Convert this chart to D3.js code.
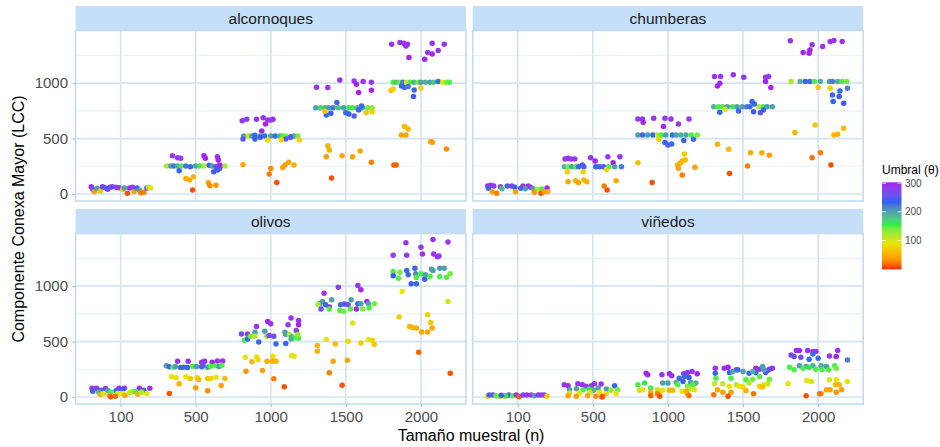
<!DOCTYPE html>
<html>
<head>
<meta charset="utf-8">
<script src="https://cdn.jsdelivr.net/npm/d3@7"></script>
<style>
  html, body { margin: 0; padding: 0; background: #ffffff; }
  svg { display: block; }
</style>
</head>
<body>
<svg id="chart" width="940" height="447"></svg>
<script>
// ---- data -------------------------------------------------------------
const panelNames = ["alcornoques", "chumberas", "olivos", "viñedos"];
const sampleSizes = [100, 500, 1000, 1500, 2000];
const yTicks = [0, 500, 1000];
const yMinorTicks = [250, 750, 1250];
const legendTicks = [100, 200, 300];
// colour ramp for the threshold (θ)
const colourStops = [0, 35, 90, 155, 200, 235, 300];
const colourValues = ["#ff1a00", "#ff9800", "#e8e400", "#2bee4a", "#4fa0ad", "#2a60f2", "#a524f0"];

// rows: [sample size n, horizontal jitter (category units), LCC, θ]
const alcornoques = [
  [100,-0.39,66,290],[100,-0.37,42,260],[100,-0.35,21,40],[100,-0.31,51,200],[100,-0.27,27,70],[100,-0.24,66,290],[100,-0.20,54,230],[100,-0.17,42,280],[100,-0.14,60,230],[100,-0.11,66,290],[100,-0.06,60,260],[100,-0.02,57,290],[100,0.03,42,70],[100,0.05,54,200],[100,0.09,6,10],[100,0.12,54,290],[100,0.16,60,290],[100,0.18,21,40],[100,0.22,54,230],[100,0.25,36,200],[100,0.27,12,25],[100,0.31,15,25],[100,0.35,54,290],[100,0.37,60,130],[100,0.40,54,90],
  [500,-0.31,346,290],[500,-0.24,328,280],[500,-0.20,322,290],[500,0.11,346,300],[500,0.13,322,300],[500,0.29,337,290],[500,0.30,307,300],
  [500,-0.39,253,120],[500,-0.33,253,200],[500,-0.29,253,225],[500,-0.24,253,195],[500,-0.19,253,150],[500,-0.13,253,225],[500,-0.07,247,230],[500,0.00,253,200],[500,0.05,253,160],[500,0.11,253,120],[500,0.18,259,230],[500,0.22,253,200],[500,0.27,247,250],[500,0.33,253,190],[500,0.39,253,120],
  [500,-0.22,210,230],[500,0.24,201,240],[500,0.29,216,240],[500,0.32,231,250],[500,0.32,262,300],
  [500,-0.13,141,50],[500,-0.08,126,50],[500,-0.03,156,55],[500,-0.04,36,10],[500,0.17,102,40],[500,0.19,75,30],[500,0.27,78,35],
  [1000,-0.38,662,290],[1000,-0.32,674,285],[1000,-0.19,674,290],[1000,-0.10,689,290],[1000,-0.07,632,300],[1000,-0.12,569,300],[1000,-0.04,668,290],[1000,0.00,668,290],[1000,0.03,674,290],
  [1000,-0.36,523,200],[1000,-0.30,523,100],[1000,-0.25,523,200],[1000,-0.21,530,230],[1000,-0.14,523,200],[1000,-0.08,523,230],[1000,0.00,523,200],[1000,0.06,523,230],[1000,0.12,523,190],[1000,0.16,523,150],[1000,0.20,523,140],[1000,0.27,517,250],[1000,0.31,523,200],[1000,0.36,523,140],
  [1000,-0.37,496,250],[1000,-0.21,496,240],[1000,-0.14,511,240],[1000,0.20,496,250],[1000,0.26,511,250],
  [1000,-0.04,488,80],[1000,0.14,488,80],[1000,0.38,488,75],
  [1000,-0.37,265,45],[1000,-0.02,180,25],[1000,0.00,231,30],[1000,0.08,105,10],[1000,0.16,240,40],[1000,0.19,262,40],[1000,0.24,286,45],[1000,0.31,262,50],
  [1500,-0.39,963,290],[1500,-0.24,960,290],[1500,-0.08,1029,290],[1500,0.11,1020,290],[1500,0.14,990,300],[1500,0.23,1014,290],[1500,0.34,1008,290],[1500,0.17,915,300],[1500,0.34,936,300],
  [1500,-0.40,779,200],[1500,-0.34,779,170],[1500,-0.28,779,190],[1500,-0.23,779,200],[1500,-0.17,779,220],[1500,-0.10,779,180],[1500,-0.03,779,200],[1500,0.04,779,160],[1500,0.09,779,150],[1500,0.15,779,190],[1500,0.22,779,200],[1500,0.29,779,140],[1500,0.35,779,130],
  [1500,-0.12,825,230],[1500,-0.26,713,230],[1500,-0.20,728,240],[1500,0.00,734,230],[1500,0.04,722,240],[1500,0.11,704,250],[1500,0.17,758,230],[1500,0.21,795,230],
  [1500,-0.28,746,65],[1500,0.27,734,70],[1500,0.35,743,75],
  [1500,-0.24,436,50],[1500,-0.22,397,50],[1500,-0.26,337,40],[1500,-0.05,346,45],[1500,0.09,337,40],[1500,0.19,388,45],[1500,0.34,286,25],[1500,-0.19,144,10],
  [2000,-0.39,1352,290],[2000,-0.28,1367,290],[2000,-0.23,1361,290],[2000,-0.20,1336,300],[2000,-0.18,1352,290],[2000,-0.16,1231,300],[2000,0.05,1216,300],[2000,0.09,1276,290],[2000,0.15,1264,300],[2000,0.23,1294,290],[2000,0.15,1361,290],[2000,0.31,1352,290],
  [2000,-0.37,1008,150],[2000,-0.33,1008,180],[2000,-0.28,1008,140],[2000,-0.24,1008,220],[2000,-0.19,1008,100],[2000,-0.14,1008,150],[2000,-0.09,1008,190],[2000,-0.04,1008,140],[2000,0.00,1008,200],[2000,0.06,1008,190],[2000,0.12,1008,200],[2000,0.17,1008,180],[2000,0.23,1014,230],[2000,0.29,1008,100],[2000,0.34,1008,140],[2000,0.38,1008,150],
  [2000,-0.26,975,230],[2000,-0.22,960,230],[2000,-0.17,969,220],[2000,-0.09,939,230],[2000,-0.10,879,240],
  [2000,-0.40,933,70],[2000,-0.37,948,75],[2000,0.00,954,75],
  [2000,-0.22,608,55],[2000,-0.17,587,55],[2000,-0.26,533,45],[2000,-0.20,533,45],[2000,0.13,472,40],[2000,0.15,466,40],[2000,0.34,406,30],
  [2000,-0.36,262,15],[2000,-0.33,262,15]
];

const chumberas = [
  [100,-0.40,72,290],[100,-0.36,78,290],[100,-0.32,72,290],[100,-0.39,51,230],[100,-0.23,66,280],[100,-0.14,72,230],[100,-0.08,72,290],[100,-0.04,60,240],[100,0.04,51,230],[100,0.07,72,290],[100,0.14,72,290],[100,0.17,60,280],[100,0.21,48,200],[100,0.26,42,120],[100,0.32,45,150],[100,0.39,54,300],[100,-0.34,21,40],[100,-0.28,6,25],[100,-0.03,21,40],[100,0.22,15,35],[100,0.31,6,10],[100,0.35,21,40],[100,0.40,21,50],[100,-0.21,48,180],[100,0.10,48,200],
  [500,-0.37,316,290],[500,-0.33,322,290],[500,-0.29,316,290],[500,-0.24,316,290],[500,-0.03,328,290],[500,0.03,298,300],[500,0.20,337,290],[500,0.27,283,300],[500,0.36,337,290],
  [500,-0.38,246,190],[500,-0.33,246,140],[500,-0.28,246,200],[500,-0.23,246,150],[500,-0.19,246,230],[500,-0.12,246,230],[500,0.04,246,230],[500,0.09,246,230],[500,0.14,246,250],[500,0.21,246,150],[500,0.29,246,200],[500,0.38,246,220],[500,-0.14,262,250],
  [500,-0.34,201,75],[500,-0.13,201,75],[500,0.18,222,80],
  [500,-0.33,111,45],[500,-0.23,120,50],[500,-0.19,102,45],[500,-0.12,126,60],[500,-0.08,111,50],[500,0.15,72,25],[500,0.19,36,10],[500,0.31,120,45],
  [1000,-0.40,677,290],[1000,-0.34,677,290],[1000,-0.33,647,300],[1000,-0.19,683,290],[1000,-0.06,608,300],[1000,-0.04,683,290],[1000,0.04,677,290],[1000,0.14,632,290],[1000,0.28,677,290],
  [1000,-0.40,533,200],[1000,-0.34,533,230],[1000,-0.27,533,200],[1000,-0.20,533,230],[1000,-0.14,533,120],[1000,-0.09,533,150],[1000,-0.03,533,200],[1000,0.06,533,230],[1000,0.11,533,200],[1000,0.17,533,190],[1000,0.24,533,200],[1000,0.31,533,150],[1000,0.39,533,140],
  [1000,-0.12,494,75],[1000,-0.04,464,240],[1000,0.00,443,250],[1000,0.05,452,230],[1000,0.21,482,240],[1000,0.34,494,230],
  [1000,0.22,361,75],[1000,0.13,262,50],[1000,0.16,277,50],[1000,0.19,298,55],[1000,0.23,307,60],[1000,0.14,232,40],[1000,0.19,171,25],[1000,0.36,241,40],[1000,-0.40,283,60],[1000,-0.21,105,10],
  [1500,-0.38,1059,290],[1500,-0.30,1059,290],[1500,-0.34,975,300],[1500,-0.31,999,300],[1500,-0.13,1075,290],[1500,0.01,1053,290],[1500,0.30,1053,290],[1500,0.34,1059,290],[1500,0.30,1014,300],[1500,0.37,960,300],
  [1500,-0.39,788,190],[1500,-0.33,788,150],[1500,-0.27,788,150],[1500,-0.21,788,200],[1500,-0.14,788,160],[1500,-0.08,788,200],[1500,-0.01,788,200],[1500,0.05,788,220],[1500,0.09,788,230],[1500,0.21,788,120],[1500,0.27,788,150],[1500,0.32,788,200],[1500,0.39,788,200],
  [1500,0.12,834,230],[1500,0.15,812,230],[1500,-0.24,764,100],[1500,-0.31,737,230],[1500,-0.06,749,230],[1500,0.14,743,240],[1500,0.23,734,250],[1500,0.27,758,240],
  [1500,-0.34,448,50],[1500,-0.19,403,55],[1500,0.10,373,50],[1500,0.25,373,50],[1500,0.35,349,40],[1500,0.06,253,25],[1500,-0.18,186,10],
  [2000,-0.37,1382,290],[2000,-0.20,1276,300],[2000,-0.12,1270,300],[2000,-0.11,1300,300],[2000,-0.08,1346,290],[2000,0.06,1330,290],[2000,0.16,1376,290],[2000,0.21,1385,290],[2000,0.32,1376,290],
  [2000,-0.36,1014,120],[2000,-0.24,1014,190],[2000,-0.17,1014,230],[2000,-0.11,1014,230],[2000,-0.05,1014,150],[2000,0.03,1014,190],[2000,0.15,1014,200],[2000,0.19,1014,220],[2000,0.26,1014,190],[2000,0.32,1014,150],[2000,0.38,1014,140],
  [2000,0.00,960,70],[2000,0.16,954,75],[2000,0.29,930,230],[2000,0.39,954,220],[2000,0.19,894,230],[2000,0.28,879,240],[2000,0.20,834,240],[2000,0.34,819,240],
  [2000,-0.31,554,55],[2000,-0.04,623,65],[2000,0.21,533,55],[2000,0.26,539,55],[2000,0.34,593,60],[2000,-0.08,328,20],[2000,0.03,373,25],[2000,0.17,262,10]
];

const olivos = [
  [100,-0.38,80,290],[100,-0.32,80,290],[100,-0.20,77,290],[100,-0.02,80,290],[100,0.05,80,290],[100,0.25,80,290],[100,0.39,80,290],
  [100,-0.37,53,230],[100,-0.26,62,230],[100,-0.06,56,230],[100,0.03,68,240],[100,0.31,62,230],[100,-0.29,44,190],[100,-0.17,62,200],[100,-0.13,44,150],[100,0.16,50,130],[100,0.20,50,150],
  [100,-0.04,32,90],[100,0.03,32,90],[100,0.35,32,90],[100,-0.27,23,45],[100,-0.15,14,40],[100,0.06,14,45],[100,0.23,26,50],[100,-0.13,3,10],[100,-0.07,8,20],[100,-0.23,32,100],[100,0.12,38,110],[100,0.28,44,120],
  [500,-0.24,323,290],[500,-0.10,323,290],[500,0.08,314,290],[500,0.12,323,290],[500,0.22,314,300],[500,0.29,326,290],[500,0.36,326,290],
  [500,-0.39,281,200],[500,-0.35,272,230],[500,-0.30,266,140],[500,-0.27,275,200],[500,-0.20,266,230],[500,-0.16,269,230],[500,-0.11,266,230],[500,-0.04,278,150],[500,0.01,275,200],[500,0.08,272,230],[500,0.10,284,260],[500,0.16,269,200],[500,0.20,278,150],[500,0.27,284,150],[500,0.31,275,200],[500,0.35,287,150],
  [500,-0.32,182,90],[500,-0.26,173,90],[500,-0.13,182,90],[500,-0.07,167,70],[500,0.02,173,80],[500,0.04,158,60],[500,0.16,167,70],[500,0.20,167,75],[500,0.27,179,90],[500,0.39,167,60],
  [500,-0.22,119,50],[500,0.00,83,40],[500,0.16,56,30],[500,0.34,104,40],[500,-0.35,32,10],
  [1000,-0.39,569,260],[1000,-0.31,569,280],[1000,-0.19,637,290],[1000,-0.21,584,200],[1000,-0.08,593,200],[1000,-0.35,512,150],[1000,-0.31,524,230],[1000,-0.16,497,230],[1000,-0.27,548,140],[1000,-0.21,548,120],[1000,-0.05,548,140],
  [1000,-0.34,359,90],[1000,-0.19,362,90],[1000,-0.17,338,80],[1000,-0.25,317,55],[1000,-0.33,233,35],[1000,-0.11,239,40],
  [1000,-0.04,682,300],[1000,0.00,661,290],[1000,0.27,712,290],[1000,0.37,691,290],[1000,0.37,652,300],[1000,0.23,652,280],[1000,0.34,601,280],[1000,0.19,584,200],[1000,-0.02,554,280],[1000,0.04,548,260],[1000,0.20,563,200],[1000,0.25,563,120],[1000,0.28,542,200],[1000,0.31,533,150],[1000,0.37,530,150],[1000,0.36,563,130],[1000,0.07,479,230],[1000,0.20,482,230],[1000,0.27,524,190],
  [1000,0.03,368,90],[1000,0.28,374,85],[1000,0.31,368,90],[1000,-0.05,323,50],[1000,0.02,323,50],[1000,0.07,323,55],[1000,0.04,164,25],[1000,0.18,92,10],
  [1500,-0.29,937,290],[1500,-0.10,991,280],[1500,0.16,1006,290],[1500,0.20,967,300],
  [1500,-0.33,793,260],[1500,-0.22,811,300],[1500,0.03,832,270],[1500,0.14,793,300],[1500,0.28,862,300],
  [1500,-0.35,841,210],[1500,-0.31,862,200],[1500,-0.27,832,230],[1500,-0.19,877,200],[1500,-0.07,832,230],[1500,-0.02,838,250],[1500,0.07,877,200],[1500,0.16,841,230],[1500,0.20,841,200],[1500,0.22,793,140],[1500,0.30,841,200],[1500,0.38,841,140],
  [1500,-0.37,835,120],[1500,-0.22,793,150],[1500,-0.08,781,150],[1500,-0.03,772,140],[1500,0.31,802,150],[1500,0.06,793,150],
  [1500,0.09,667,100],[1500,-0.26,518,90],[1500,0.03,503,85],[1500,0.20,488,75],[1500,0.30,518,90],[1500,0.35,512,80],[1500,0.38,473,70],
  [1500,-0.38,464,55],[1500,-0.38,413,50],[1500,-0.14,479,60],[1500,-0.17,323,45],[1500,0.02,332,45],[1500,-0.22,218,25],[1500,-0.05,107,10],
  [2000,-0.20,1392,290],[2000,-0.37,1278,280],[2000,-0.19,1278,290],[2000,0.00,1350,290],[2000,0.02,1290,290],[2000,0.16,1422,290],[2000,0.17,1290,290],[2000,0.22,1266,300],[2000,0.36,1398,290],[2000,0.24,1272,290],
  [2000,-0.37,1132,150],[2000,-0.37,1093,240],[2000,-0.28,1126,140],[2000,-0.30,1072,150],[2000,-0.19,1141,230],[2000,-0.17,1102,230],[2000,-0.08,1161,230],[2000,-0.07,1111,210],[2000,-0.13,1021,240],[2000,-0.06,1021,230],[2000,-0.06,1078,150],[2000,0.00,1111,150],[2000,0.05,1063,240],[2000,0.06,1102,200],[2000,0.12,1087,150],[2000,0.14,1153,200],[2000,0.16,1141,200],[2000,0.25,1161,200],[2000,0.25,1087,150],[2000,0.31,1161,200],[2000,0.34,1081,150],[2000,0.39,1111,140],
  [2000,-0.25,952,90],[2000,-0.29,721,75],[2000,0.09,742,75],[2000,0.13,673,70],[2000,0.36,862,100],
  [2000,-0.15,637,55],[2000,-0.11,628,55],[2000,-0.06,622,50],[2000,0.01,587,45],[2000,0.09,587,45],[2000,0.15,622,45],
  [2000,-0.03,404,15],[2000,0.39,215,10]
];

const vinedos = [
  [100,-0.40,6,80],[100,-0.38,18,230],[100,-0.33,18,280],[100,-0.29,12,150],[100,-0.24,6,130],[100,-0.18,6,90],[100,-0.12,18,230],[100,-0.07,12,150],[100,-0.02,18,290],[100,0.02,2,15],[100,0.07,18,280],[100,0.12,18,290],[100,0.18,18,290],[100,0.22,12,200],[100,0.27,18,290],[100,0.31,18,280],[100,0.35,18,290],[100,0.39,6,70],[100,-0.16,12,180],[100,-0.22,15,240],
  [500,-0.38,111,290],[500,-0.33,102,290],[500,-0.20,120,290],[500,-0.14,111,290],[500,-0.09,96,290],[500,-0.02,102,280],[500,0.02,120,290],[500,0.11,117,290],[500,0.29,102,230],
  [500,-0.31,66,200],[500,-0.22,75,200],[500,-0.13,66,150],[500,-0.05,72,160],[500,0.01,60,190],[500,0.07,81,200],[500,0.18,72,200],[500,0.24,60,130],[500,0.33,66,140],
  [500,-0.31,36,100],[500,-0.18,36,90],[500,-0.04,42,100],[500,0.09,42,90],[500,0.18,30,80],[500,0.31,30,90],
  [500,-0.33,12,40],[500,-0.22,6,40],[500,-0.07,12,45],[500,0.04,6,30],[500,0.13,6,20],[500,0.12,0,10],
  [1000,-0.29,215,300],[1000,-0.27,200,300],[1000,-0.08,200,290],[1000,0.02,209,300],[1000,0.05,191,290],[1000,0.21,209,280],[1000,0.26,221,290],[1000,0.32,230,290],[1000,0.39,209,300],
  [1000,0.15,170,230],[1000,0.22,185,230],[1000,0.28,176,240],[1000,0.20,140,240],
  [1000,-0.07,126,200],[1000,0.00,126,200],[1000,0.11,131,190],[1000,0.30,131,200],[1000,0.37,126,190],
  [1000,-0.40,111,150],[1000,-0.31,126,160],[1000,-0.23,81,150],[1000,0.13,111,150],[1000,0.26,96,140],[1000,0.33,111,150],
  [1000,-0.38,60,110],[1000,-0.14,66,110],[1000,0.28,72,120],
  [1000,-0.34,66,90],[1000,-0.11,51,85],[1000,-0.07,60,90],[1000,0.19,51,90],[1000,0.35,66,90],
  [1000,-0.23,42,50],[1000,0.02,60,55],[1000,0.06,60,55],[1000,0.24,51,55],[1000,0.26,30,45],
  [1000,-0.23,12,15],[1000,-0.14,30,25],[1000,-0.11,6,10],[1000,0.28,12,20],
  [1500,-0.37,260,290],[1500,-0.25,260,290],[1500,-0.20,269,300],[1500,-0.09,245,290],[1500,0.17,260,300],[1500,0.22,251,290],[1500,0.35,251,280],[1500,0.39,260,290],
  [1500,-0.37,215,230],[1500,-0.18,221,240],[1500,-0.07,245,230],[1500,0.08,215,230],[1500,0.17,221,230],[1500,0.30,221,240],[1500,0.33,239,250],
  [1500,-0.14,230,200],[1500,0.00,230,200],[1500,0.13,230,190],[1500,0.26,275,200],[1500,0.28,245,200],
  [1500,-0.36,170,150],[1500,-0.16,170,150],[1500,0.04,155,150],[1500,0.13,161,140],[1500,0.22,185,150],[1500,0.35,161,140],
  [1500,-0.38,120,110],[1500,-0.27,120,110],[1500,-0.09,111,110],[1500,0.08,126,120],[1500,0.33,120,110],
  [1500,-0.18,96,90],[1500,-0.05,96,90],[1500,0.00,90,85],[1500,0.22,96,80],[1500,0.28,111,90],
  [1500,-0.34,66,45],[1500,-0.27,42,40],[1500,-0.16,42,40],[1500,0.04,57,50],[1500,0.26,90,60],
  [1500,-0.39,21,20],[1500,-0.20,6,10],[1500,0.14,30,20],
  [2000,-0.29,419,290],[2000,-0.25,419,300],[2000,-0.14,419,290],[2000,-0.07,410,290],[2000,-0.03,410,290],[2000,0.26,419,290],[2000,0.15,371,290],[2000,0.24,365,300],[2000,-0.36,380,280],[2000,-0.32,365,260],[2000,-0.23,359,270],
  [2000,-0.07,389,230],[2000,-0.12,341,230],[2000,0.00,350,230],[2000,0.39,335,220],
  [2000,-0.25,281,200],[2000,-0.16,275,200],[2000,-0.07,281,190],[2000,0.04,281,190],[2000,0.11,275,200],
  [2000,-0.38,269,150],[2000,-0.32,245,150],[2000,-0.20,260,150],[2000,-0.12,269,160],[2000,-0.03,251,150],[2000,0.05,245,150],[2000,0.14,245,150],[2000,0.22,281,150],[2000,0.24,260,140],
  [2000,-0.40,120,90],[2000,-0.15,149,90],[2000,-0.09,141,100],[2000,0.15,155,100],[2000,0.24,155,90],[2000,0.39,141,90],
  [2000,0.04,30,40],[2000,0.11,66,45],[2000,0.16,66,45],[2000,0.23,111,60],[2000,0.28,111,55],[2000,0.31,66,40],[2000,0.24,42,35],
  [2000,-0.16,12,10],[2000,0.02,30,20]
];

const panelData = [alcornoques, chumberas, olivos, vinedos];

// ---- layout -----------------------------------------------------------
const font = "'Liberation Sans', Arial, Helvetica, sans-serif";
const panelLeft = [75.5, 472.7];
const panelTop = [30.5, 233.5];
const panelW = 390.5;
const panelH = 170.5;
const stripH = 24.5;

const stripFill = "#c6dff9";
const gridMajor = "#d3e4f5";
const gridMinor = "#e9f2fb";
const borderColour = "#c4dbf0";

const svg = d3.select("#chart");

const x = d3.scalePoint().domain(sampleSizes).range([0, panelW]).padding(0.6);
const step = x.step();
const y = d3.scaleLinear().domain([-63, 1475]).range([panelH, 0]);
const colour = d3.scaleLinear()
  .domain(colourStops)
  .range(colourValues)
  .interpolate(d3.interpolateLab)
  .clamp(true);

panelNames.forEach((name, i) => {
  const col = i % 2, row = Math.floor(i / 2);
  const g = svg.append("g").attr("transform", `translate(${panelLeft[col]},${panelTop[row]})`);

  // strip
  g.append("rect")
    .attr("x", 0).attr("y", -stripH)
    .attr("width", panelW).attr("height", stripH)
    .attr("fill", stripFill);
  g.append("text")
    .attr("x", panelW / 2).attr("y", -stripH / 2)
    .attr("dy", "0.36em")
    .attr("text-anchor", "middle")
    .attr("font-family", font).attr("font-size", 15.5)
    .attr("fill", "#1a1a1a")
    .text(name);

  // panel background
  g.append("rect").attr("width", panelW).attr("height", panelH).attr("fill", "#ffffff");

  // minor grid
  g.selectAll(".minor").data(yMinorTicks).join("line")
    .attr("x1", 0).attr("x2", panelW)
    .attr("y1", d => y(d)).attr("y2", d => y(d))
    .attr("stroke", gridMinor).attr("stroke-width", 1.1);

  // major grid
  g.selectAll(".hmajor").data(yTicks).join("line")
    .attr("x1", 0).attr("x2", panelW)
    .attr("y1", d => y(d)).attr("y2", d => y(d))
    .attr("stroke", gridMajor).attr("stroke-width", 1.6);
  g.selectAll(".vmajor").data(sampleSizes).join("line")
    .attr("y1", 0).attr("y2", panelH)
    .attr("x1", d => x(d)).attr("x2", d => x(d))
    .attr("stroke", gridMajor).attr("stroke-width", 1.6);

  // points
  g.append("g").selectAll("circle").data(panelData[i]).join("circle")
    .attr("cx", d => x(d[0]) + d[1] * step)
    .attr("cy", d => y(d[2]))
    .attr("r", 2.75)
    .attr("fill", d => colour(d[3]));

  // panel border
  g.append("rect")
    .attr("width", panelW).attr("height", panelH)
    .attr("fill", "none").attr("stroke", borderColour).attr("stroke-width", 1.6);

  // axes
  if (col === 0) {
    const ay = g.append("g").call(
      d3.axisLeft(y).tickValues(yTicks).tickFormat(d3.format("d")).tickSize(3).tickPadding(4.5));
    ay.select(".domain").remove();
    ay.selectAll("line").attr("stroke", "#b8b8b8");
    ay.selectAll("text").attr("font-family", font).attr("font-size", 15).attr("fill", "#4d4d4d");
  }
  if (row === 1) {
    const ax = g.append("g").attr("transform", `translate(0,${panelH})`)
      .call(d3.axisBottom(x).tickFormat(d3.format("d")).tickSize(3).tickPadding(4));
    ax.select(".domain").remove();
    ax.selectAll("line").attr("stroke", "#b8b8b8");
    ax.selectAll("text").attr("font-family", font).attr("font-size", 15).attr("fill", "#4d4d4d");
  }
});

// axis titles
svg.append("text")
  .attr("x", 471).attr("y", 441)
  .attr("text-anchor", "middle")
  .attr("font-family", font).attr("font-size", 16).attr("fill", "#000")
  .text("Tamaño muestral (n)");
svg.append("text")
  .attr("transform", "translate(24,219) rotate(-90)")
  .attr("text-anchor", "middle")
  .attr("font-family", font).attr("font-size", 16).attr("fill", "#000")
  .text("Componente Conexa Mayor (LCC)");

// ---- colour bar legend ------------------------------------------------
const barX = 882, barW = 19.5, barTop = 182.3, barBottom = 269.3;
const legendScale = d3.scaleLinear().domain([0, 303]).range([barBottom, barTop]);
const grad = svg.append("defs").append("linearGradient")
  .attr("id", "thetaRamp").attr("x1", 0).attr("x2", 0).attr("y1", 1).attr("y2", 0);
d3.range(0, 304, 6).forEach(v => {
  grad.append("stop").attr("offset", v / 303).attr("stop-color", colour(v));
});
svg.append("rect")
  .attr("x", barX).attr("y", barTop)
  .attr("width", barW).attr("height", barBottom - barTop)
  .attr("fill", "url(#thetaRamp)");
legendTicks.forEach(v => {
  const ty = legendScale(v);
  svg.append("line").attr("x1", barX).attr("x2", barX + 4).attr("y1", ty).attr("y2", ty)
    .attr("stroke", "#ffffff").attr("stroke-width", 0.8);
  svg.append("line").attr("x1", barX + barW - 4).attr("x2", barX + barW).attr("y1", ty).attr("y2", ty)
    .attr("stroke", "#ffffff").attr("stroke-width", 0.8);
  svg.append("text")
    .attr("x", barX + barW + 3.5).attr("y", ty).attr("dy", "0.36em")
    .attr("font-family", font).attr("font-size", 10).attr("fill", "#4d4d4d")
    .text(v);
});
svg.append("text")
  .attr("x", barX).attr("y", 174)
  .attr("font-family", font).attr("font-size", 12).attr("fill", "#000")
  .text("Umbral (θ)");
</script>
</body>
</html>
